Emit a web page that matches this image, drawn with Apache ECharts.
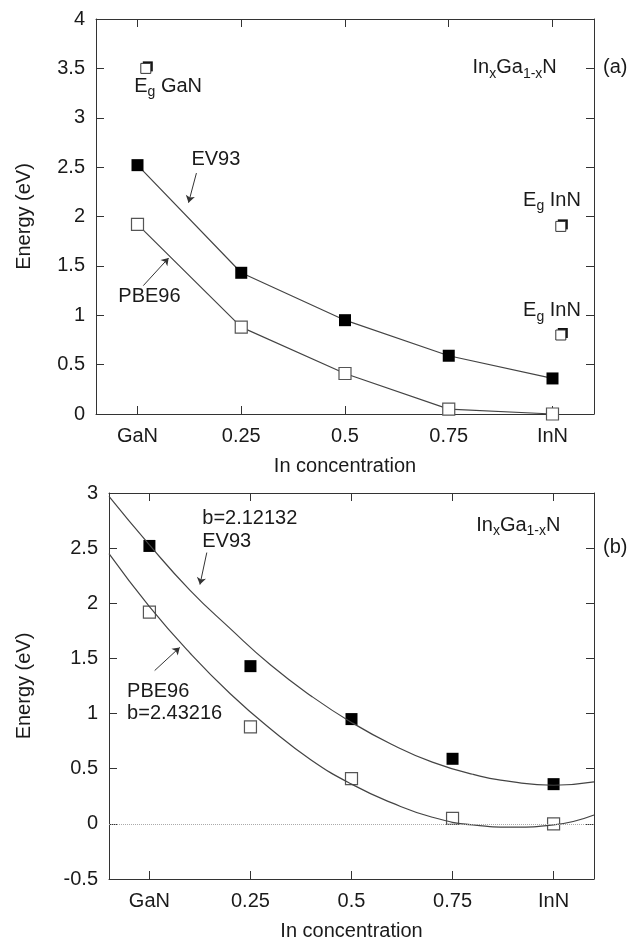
<!DOCTYPE html>
<html>
<head>
<meta charset="utf-8">
<title>InGaN gap</title>
<script src="https://cdn.jsdelivr.net/npm/echarts@6/dist/echarts.min.js"></script>
<style>
  html, body { margin: 0; padding: 0; background: #fff; }
  #chart { width: 631px; height: 942px; }
</style>
</head>
<body>
<div id="chart"></div>
<script>
  // In concentration, GaN = 0 and InN = 1
  var conc = [0, 0.25, 0.5, 0.75, 1]
  var xTickValues = [0, 0.25, 0.5, 0.75, 1]
  var xTickLabels = ['GaN', '0.25', '0.5', '0.75', 'InN']
  var ev93 = [2.52, 1.43, 0.95, 0.59, 0.36]
  var pbe96 = [1.92, 0.88, 0.41, 0.05, 0.0]
  // bowing fits
  var fitX = [-0.1, 0, 0.1, 0.2, 0.3, 0.4, 0.5, 0.6, 0.7, 0.8, 0.9, 1.0, 1.1]
  var ev93Fit = [2.97, 2.53, 2.12, 1.77, 1.44, 1.16, 0.92, 0.72, 0.56, 0.45, 0.38, 0.35, 0.38]
  var pbe96Fit = [2.45, 1.97, 1.55, 1.18, 0.86, 0.58, 0.36, 0.19, 0.06, -0.01, -0.03, -0.01, 0.08]
  // experimental gaps
  var egGaN = [[0.02, 3.5]]
  var egInN = [[1.02, 1.9], [1.02, 0.8]]

  var font = '"Liberation Sans", Arial, Helvetica, sans-serif'
  var ink = '#1a1a1a'
  var lineCol = '#444'

  function pairs (xs, ys) {
    return xs.map(function (x, i) { return [x, ys[i]] })
  }

  var rich = {
    n: {fontSize: 20, fontFamily: font, color: ink, lineHeight: 26, verticalAlign: 'middle'},
    s: {fontSize: 14, fontFamily: font, color: ink, lineHeight: 14, verticalAlign: 'bottom'}
  }
  var egText = function (what) { return '{n|E}{s|g}{n| ' + what + '}' }
  var alloyText = '{n|In}{s|x}{n|Ga}{s|1-x}{n|N}'

  function xAxes (grid) {
    var base = {
      type: 'value',
      gridIndex: grid,
      min: -0.1,
      max: 1.1,
      axisLine: {show: true, onZero: false, lineStyle: {color: '#333', width: 1}},
      axisTick: {show: true, inside: true, length: 8, customValues: xTickValues, lineStyle: {color: '#333'}},
      splitLine: {show: false}
    }
    var bottom = Object.assign({}, base, {
      position: 'bottom',
      name: 'In concentration',
      nameLocation: 'middle',
      nameGap: 42,
      nameTextStyle: {fontSize: 20, fontFamily: font, color: ink},
      axisLabel: {
        customValues: xTickValues,
        margin: 12,
        fontSize: 20,
        fontFamily: font,
        color: ink,
        formatter: function (v) { return xTickLabels[xTickValues.indexOf(v)] }
      }
    })
    var top = Object.assign({}, base, {position: 'top', axisLabel: {show: false}})
    return [bottom, top]
  }

  function yAxes (grid, min, max, gap) {
    var base = {
      type: 'value',
      gridIndex: grid,
      min: min,
      max: max,
      interval: 0.5,
      axisLine: {show: true, onZero: false, lineStyle: {color: '#333', width: 1}},
      axisTick: {show: true, inside: true, length: 8, lineStyle: {color: '#333'}},
      splitLine: {show: false}
    }
    var left = Object.assign({}, base, {
      position: 'left',
      name: 'Energy (eV)',
      nameLocation: 'middle',
      nameGap: gap,
      nameTextStyle: {fontSize: 20, fontFamily: font, color: ink},
      axisLabel: {margin: 11, fontSize: 20, fontFamily: font, color: ink}
    })
    var right = Object.assign({}, base, {position: 'right', axisLabel: {show: false}})
    return [left, right]
  }

  function note (x, y, text, align) {
    return {value: [x, y], label: {formatter: text, align: align || 'center'}}
  }

  function notes (xi, yi, data, arrows) {
    return {
      type: 'scatter',
      xAxisIndex: xi,
      yAxisIndex: yi,
      silent: true,
      clip: false,
      symbolSize: 1,
      itemStyle: {color: 'rgba(255,255,255,0)', opacity: 1},
      label: {
        show: true,
        position: [0, 0],
        verticalAlign: 'middle',
        fontSize: 20,
        fontFamily: font,
        color: ink,
        textBorderWidth: 0,
        rich: rich
      },
      data: data,
      markLine: {
        silent: true,
        symbol: ['none', 'arrow'],
        symbolSize: 7,
        label: {show: false},
        lineStyle: {color: '#333', width: 1, type: 'solid', opacity: 1},
        data: arrows.map(function (a) { return [{coord: a[0]}, {coord: a[1]}] })
      }
    }
  }

  var openSquare = {color: '#fff', borderColor: '#555', borderWidth: 1.2, opacity: 1}

  // experimental marker: black square peeking out at top right of a white one
  function egSeries (data) {
    return [
      {
        type: 'scatter',
        xAxisIndex: 0,
        yAxisIndex: 0,
        silent: true,
        clip: false,
        data: data,
        symbol: 'rect',
        symbolSize: 10,
        symbolOffset: [2, -2],
        itemStyle: {color: '#111', opacity: 1}
      },
      {
        type: 'scatter',
        xAxisIndex: 0,
        yAxisIndex: 0,
        silent: true,
        clip: false,
        data: data,
        symbol: 'rect',
        symbolSize: 10,
        itemStyle: {color: '#fff', borderColor: '#333', borderWidth: 1, opacity: 1}
      }
    ]
  }

  var chart = echarts.init(document.getElementById('chart'))
  var option = {
    animation: false,
    backgroundColor: '#fff',
    grid: [
      {left: 96, top: 19, width: 498, height: 395},
      {left: 109, top: 493, width: 485, height: 389}
    ],
    xAxis: xAxes(0).concat(xAxes(1)),
    yAxis: yAxes(0, 0, 4, 62).concat(yAxes(1, -0.5, 3, 75)),
    graphic: [
      {type: 'text', left: 603, top: 57, style: {text: '(a)', fontSize: 20, fontFamily: font, fill: ink}},
      {type: 'text', left: 603, top: 537, style: {text: '(b)', fontSize: 20, fontFamily: font, fill: ink}}
    ],
    series: [
      // panel (a)
      {
        name: 'EV93',
        type: 'line',
        xAxisIndex: 0,
        yAxisIndex: 0,
        data: pairs(conc, ev93),
        symbol: 'rect',
        symbolSize: 12,
        itemStyle: {color: '#000', opacity: 1},
        lineStyle: {color: lineCol, width: 1.2}
      },
      {
        name: 'PBE96',
        type: 'line',
        xAxisIndex: 0,
        yAxisIndex: 0,
        data: pairs(conc, pbe96),
        symbol: 'rect',
        symbolSize: 12,
        itemStyle: openSquare,
        lineStyle: {color: lineCol, width: 1.2}
      }
    ].concat(egSeries(egGaN.concat(egInN))).concat([
      notes(0, 0, [
        note(0.19, 2.57, 'EV93'),
        note(0.03, 1.19, 'PBE96'),
        note(0.075, 3.31, egText('GaN')),
        note(0.91, 3.5, alloyText),
        note(1.0, 2.16, egText('InN')),
        note(1.0, 1.04, egText('InN'))
      ], [
        [[0.142, 2.44], [0.123, 2.14]],
        [[0.014, 1.30], [0.075, 1.58]]
      ]),
      // panel (b)
      {
        name: 'EV93 fit',
        type: 'line',
        xAxisIndex: 2,
        yAxisIndex: 2,
        data: pairs(fitX, ev93Fit),
        smooth: true,
        showSymbol: false,
        symbol: 'none',
        lineStyle: {color: lineCol, width: 1.2}
      },
      {
        name: 'PBE96 fit',
        type: 'line',
        xAxisIndex: 2,
        yAxisIndex: 2,
        data: pairs(fitX, pbe96Fit),
        smooth: true,
        showSymbol: false,
        symbol: 'none',
        lineStyle: {color: lineCol, width: 1.2},
        markLine: {
          silent: true,
          symbol: 'none',
          label: {show: false},
          lineStyle: {color: '#aaa', width: 1, type: 'dotted'},
          data: [{yAxis: 0}]
        }
      },
      {
        name: 'EV93 b',
        type: 'scatter',
        xAxisIndex: 2,
        yAxisIndex: 2,
        data: pairs(conc, ev93),
        symbol: 'rect',
        symbolSize: 12,
        itemStyle: {color: '#000', opacity: 1}
      },
      {
        name: 'PBE96 b',
        type: 'scatter',
        xAxisIndex: 2,
        yAxisIndex: 2,
        data: pairs(conc, pbe96),
        symbol: 'rect',
        symbolSize: 12,
        itemStyle: openSquare
      },
      notes(2, 2, [
        note(0.132, 2.76, 'b=2.12132', 'left'),
        note(0.132, 2.56, 'EV93', 'left'),
        note(-0.054, 1.20, 'PBE96', 'left'),
        note(-0.054, 1.0, 'b=2.43216', 'left'),
        note(0.914, 2.70, alloyText)
      ], [
        [[0.142, 2.46], [0.125, 2.17]],
        [[0.013, 1.39], [0.075, 1.60]]
      ])
    ])
  }
  chart.setOption(option)
  window.onresize = function () {
    chart.resize()
  }
</script>
</body>
</html>
